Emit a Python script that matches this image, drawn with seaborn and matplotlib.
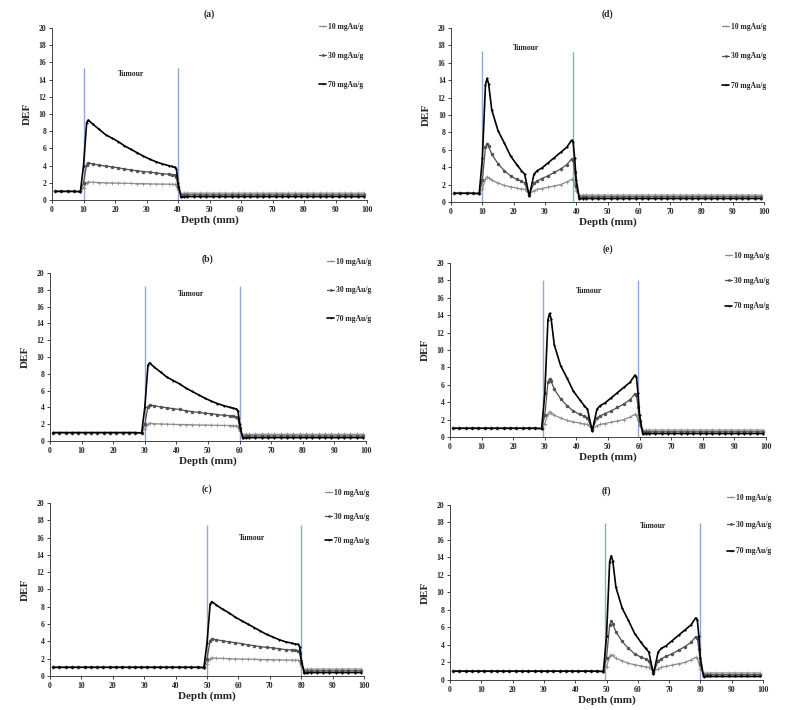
import numpy as np
import pandas as pd
import matplotlib.pyplot as plt
import seaborn as sns

sns.set_style("ticks")
plt.rcParams['font.family'] = ['Liberation Serif', 'DejaVu Serif']
plt.rcParams['font.weight'] = 'bold'

DOSES = ["10 mgAu/g", "30 mgAu/g", "70 mgAu/g"]
COLORS = ["#8c8c8c", "#505050", "#000000"]
MARKERS = ["+", "o", "."]
MSIZES = [3.0, 2.0, 2.0]
LWIDTHS = [0.9, 0.9, 1.2]

# depth grid outside the tumour (mm)
GRID = list(range(1, 100, 2))
LEVEL_BEFORE = 1.0
LEVEL_AFTER = [0.8, 0.6, 0.4]

# uniform gold distribution, offsets from tumour entrance (mm)
U_UNI = [-1, 0, 1, 1.5, 3, 5, 7, 9, 11, 13, 15, 17, 19, 21, 23, 25, 27, 28, 29, 29.5, 30, 31, 32]
UNI_10 = [1.0, 1.4, 2.0, 2.1, 2.05, 2.03, 2.0, 1.98, 1.96, 1.95, 1.93, 1.9, 1.9, 1.88, 1.86, 1.85,
          1.84, 1.83, 1.82, 1.7, 1.2, 0.75, 0.8]
UNI_30 = [1.0, 2.0, 4.1, 4.3, 4.2, 4.05, 3.95, 3.85, 3.75, 3.6, 3.5, 3.4, 3.3, 3.25, 3.15, 3.05,
          3.0, 2.95, 2.9, 2.7, 1.5, 0.5, 0.6]
UNI_70 = [0.95, 4.0, 9.0, 9.3, 8.8, 8.2, 7.6, 7.2, 6.8, 6.3, 5.9, 5.5, 5.1, 4.75, 4.45, 4.2,
          4.0, 3.9, 3.8, 3.6, 2.0, 0.3, 0.35]
UNI_70_C = [0.95, 3.8, 8.3, 8.6, 8.2, 7.7, 7.3, 6.8, 6.4, 6.0, 5.6, 5.2, 4.8, 4.5, 4.2, 3.95,
            3.8, 3.7, 3.65, 3.4, 1.9, 0.3, 0.35]

# peripheral (shell) gold distribution
U_SHELL = [-1, 0, 1, 1.5, 2, 3, 5, 7, 9, 11, 12.5, 13.5, 15, 16.5, 17.5, 19, 21, 23, 25, 27,
           28.5, 29, 29.5, 30, 31, 32]
SHELL_10 = [1.0, 1.5, 2.7, 2.9, 2.8, 2.5, 2.2, 1.9, 1.75, 1.6, 1.5, 1.45, 0.9, 1.3, 1.45, 1.55,
            1.7, 1.85, 2.0, 2.3, 2.6, 2.5, 2.0, 1.3, 0.75, 0.8]
SHELL_30 = [1.0, 2.5, 6.3, 6.7, 6.4, 5.5, 4.4, 3.6, 3.0, 2.6, 2.4, 2.2, 0.8, 2.2, 2.4, 2.7,
            3.0, 3.4, 3.8, 4.3, 4.95, 4.8, 3.5, 1.8, 0.55, 0.6]
SHELL_70 = [0.95, 5.0, 13.5, 14.2, 13.6, 10.6, 8.2, 6.8, 5.3, 4.3, 3.6, 3.2, 0.7, 3.2, 3.6, 3.9,
            4.5, 5.1, 5.7, 6.3, 7.1, 6.9, 5.0, 2.5, 0.35, 0.4]

PANELS = [
    # label, start, offsets, profiles, vlines, vline heights, tumour text xy, axes rect, legend
    ("(a)", 10, U_UNI, [UNI_10, UNI_30, UNI_70], (10, 40), (15.3, 15.3), (25, 14.6),
     [0.065, 0.7183, 0.3938, 0.2423], (367, 19, 2.75)),
    ("(b)", 30, U_UNI, [UNI_10, UNI_30, UNI_70], (30, 60), (18.5, 18.5), (44.5, 17.5),
     [0.0625, 0.3789, 0.395, 0.2366], (375, 254, 2.7)),
    ("(c)", 50, U_UNI, [UNI_10, UNI_30, UNI_70_C], (50, 80), (17.5, 17.5), (64.5, 16.0),
     [0.0625, 0.0479, 0.3925, 0.2437], (373, 485, 2.1)),
    ("(d)", 10, U_SHELL, [SHELL_10, SHELL_30, SHELL_70], (10, 39), (17.4, 17.2), (24, 17.7),
     [0.5638, 0.7155, 0.3913, 0.2451], (770, 19, 2.8)),
    ("(e)", 30, U_SHELL, [SHELL_10, SHELL_30, SHELL_70], (29.5, 59.5), (18.0, 18.0), (44, 16.8),
     [0.5625, 0.3845, 0.395, 0.2451], (773, 248, 2.25)),
    ("(f)", 50, U_SHELL, [SHELL_10, SHELL_30, SHELL_70], (49.5, 80), (17.9, 17.9), (65, 17.6),
     [0.5625, 0.0423, 0.3913, 0.2465], (775, 490, 2.45)),
]

W, H = 800, 710
fig = plt.figure(figsize=(W / 100, H / 100), dpi=100)

for label, start, offsets, profiles, vx, vh, txy, rect, leg in PANELS:
    ax = fig.add_axes(rect)
    for dose, prof, after, color, marker, ms, lw in zip(DOSES, profiles, LEVEL_AFTER, COLORS,
                                                        MARKERS, MSIZES, LWIDTHS):
        before = [d for d in GRID if d < start + offsets[0]]
        tail = [d for d in GRID if d > start + offsets[-1]]
        depth = before + [start + u for u in offsets] + tail
        vals = [LEVEL_BEFORE] * len(before) + list(prof) + [after] * len(tail)
        df = pd.DataFrame({"Depth": depth, "DEF": vals})
        sns.lineplot(data=df, x="Depth", y="DEF", color=color, marker=marker,
                     markersize=ms, markeredgewidth=0.5, markeredgecolor=color,
                     linewidth=lw, label=dose, ax=ax, estimator=None)

    ax.vlines(vx, 0, vh, color="#8fabd4", linewidth=1.0, zorder=1)
    ax.text(txy[0], txy[1], "Tumour", fontsize=5.5, fontweight="bold", ha="center", va="center")

    ax.set_xlim(0, 100)
    ax.set_ylim(0, 20)
    ax.set_xticks(range(0, 101, 10))
    ax.set_yticks(range(0, 21, 2))
    ax.tick_params(labelsize=5.5, length=2, width=0.6, pad=2)
    for t in ax.get_xticklabels() + ax.get_yticklabels():
        t.set_fontweight("bold")
    sns.despine(ax=ax)
    ax.spines["left"].set_linewidth(0.6)
    ax.spines["bottom"].set_linewidth(0.6)
    ax.set_xlabel("Depth (mm)", fontsize=8, fontweight="bold", labelpad=1)
    ax.set_ylabel("DEF", fontsize=8, fontweight="bold", labelpad=5)
    ax.set_title(label, fontsize=7, fontweight="bold", pad=8)

    lx, ly, lsp = leg
    ax.legend(loc="upper right", bbox_to_anchor=(lx / W, 1 - ly / H),
              bbox_transform=fig.transFigure, frameon=False, fontsize=5.5,
              labelspacing=lsp, handlelength=1.0, handletextpad=0.2, borderpad=0,
              markerscale=0.7)

fig.savefig("out.png", dpi=100)
